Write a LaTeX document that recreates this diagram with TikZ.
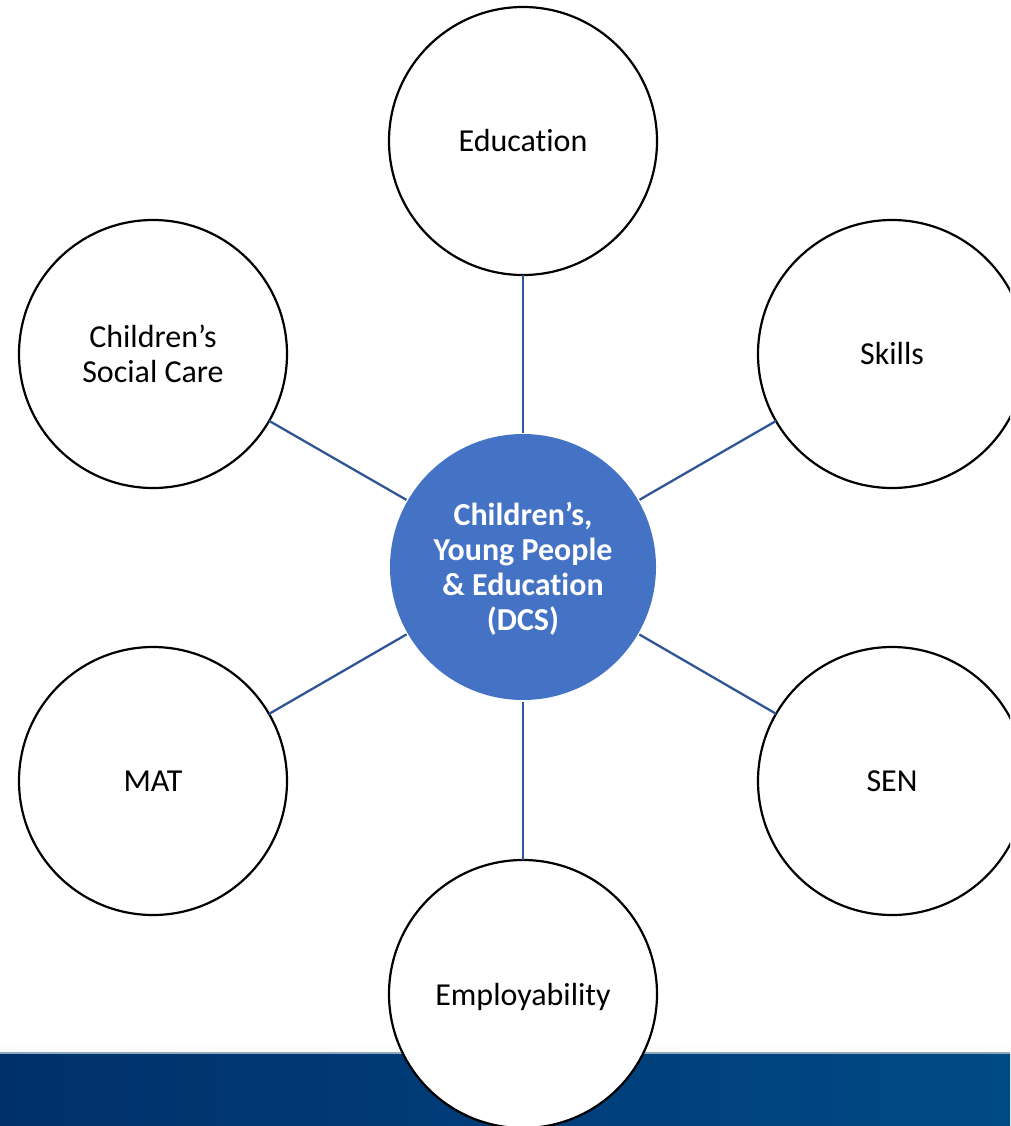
\documentclass[tikz,border=0pt]{standalone}
\usepackage{fontspec}
\setmainfont{Carlito}[Ligatures=NoCommon,Renderer=Basic]
\definecolor{hub}{HTML}{4472C4}
\definecolor{link}{HTML}{2F5597}
\definecolor{bandL}{HTML}{00306B}
\definecolor{bandR}{HTML}{004A86}
\definecolor{bandEdge}{HTML}{8FA9BC}
\definecolor{bandGlow}{HTML}{FBFBF8}
\tikzset{
  spoke/.style={circle,draw=black,line width=2.2pt,fill=white,minimum size=268pt,inner sep=0pt,outer sep=0pt,align=center,font=\fontsize{32}{35}\selectfont},
  hubnode/.style={circle,fill=hub,minimum size=266pt,inner sep=0pt,outer sep=0pt,align=center,text=white,font=\fontsize{32}{35}\selectfont\bfseries},
  linkline/.style={draw=link,line width=2.3pt}
}
\begin{document}
\begin{tikzpicture}[x=1pt,y=-1pt]
\useasboundingbox (0,0) rectangle (1010,1126);
\clip (0,0) rectangle (1010,1126);
\shade[left color=bandL,right color=bandR] (0,1053) rectangle (1010,1126);
\shade[top color=white,bottom color=bandGlow] (0,1040) rectangle (1010,1052);
\fill[bandEdge] (0,1052) rectangle (1010,1054);
\node[hubnode] (dcs) at (523,567) {};
\node[align=center,text=white,font=\fontsize{32}{35}\selectfont\bfseries,inner sep=0pt] (dcstext) at (523,568.5) {Children’s,\\Young People\\\& Education\\(DCS)};
\node[spoke] (edu) at (523,141) {Education};
\node[spoke] (csc) at (153,354) {Children’s\\Social Care};
\node[spoke] (skills) at (892,354) {Skills};
\node[spoke] (mat) at (153,781) {MAT};
\node[spoke] (sen) at (892,781) {SEN};
\node[spoke,text depth=0pt] (emp) at (523,994) {Employability};
\foreach \n in {edu,csc,skills,mat,sen,emp}
  \draw[linkline,shorten >=1.5pt] (\n) -- (dcs);
\end{tikzpicture}
\end{document}
